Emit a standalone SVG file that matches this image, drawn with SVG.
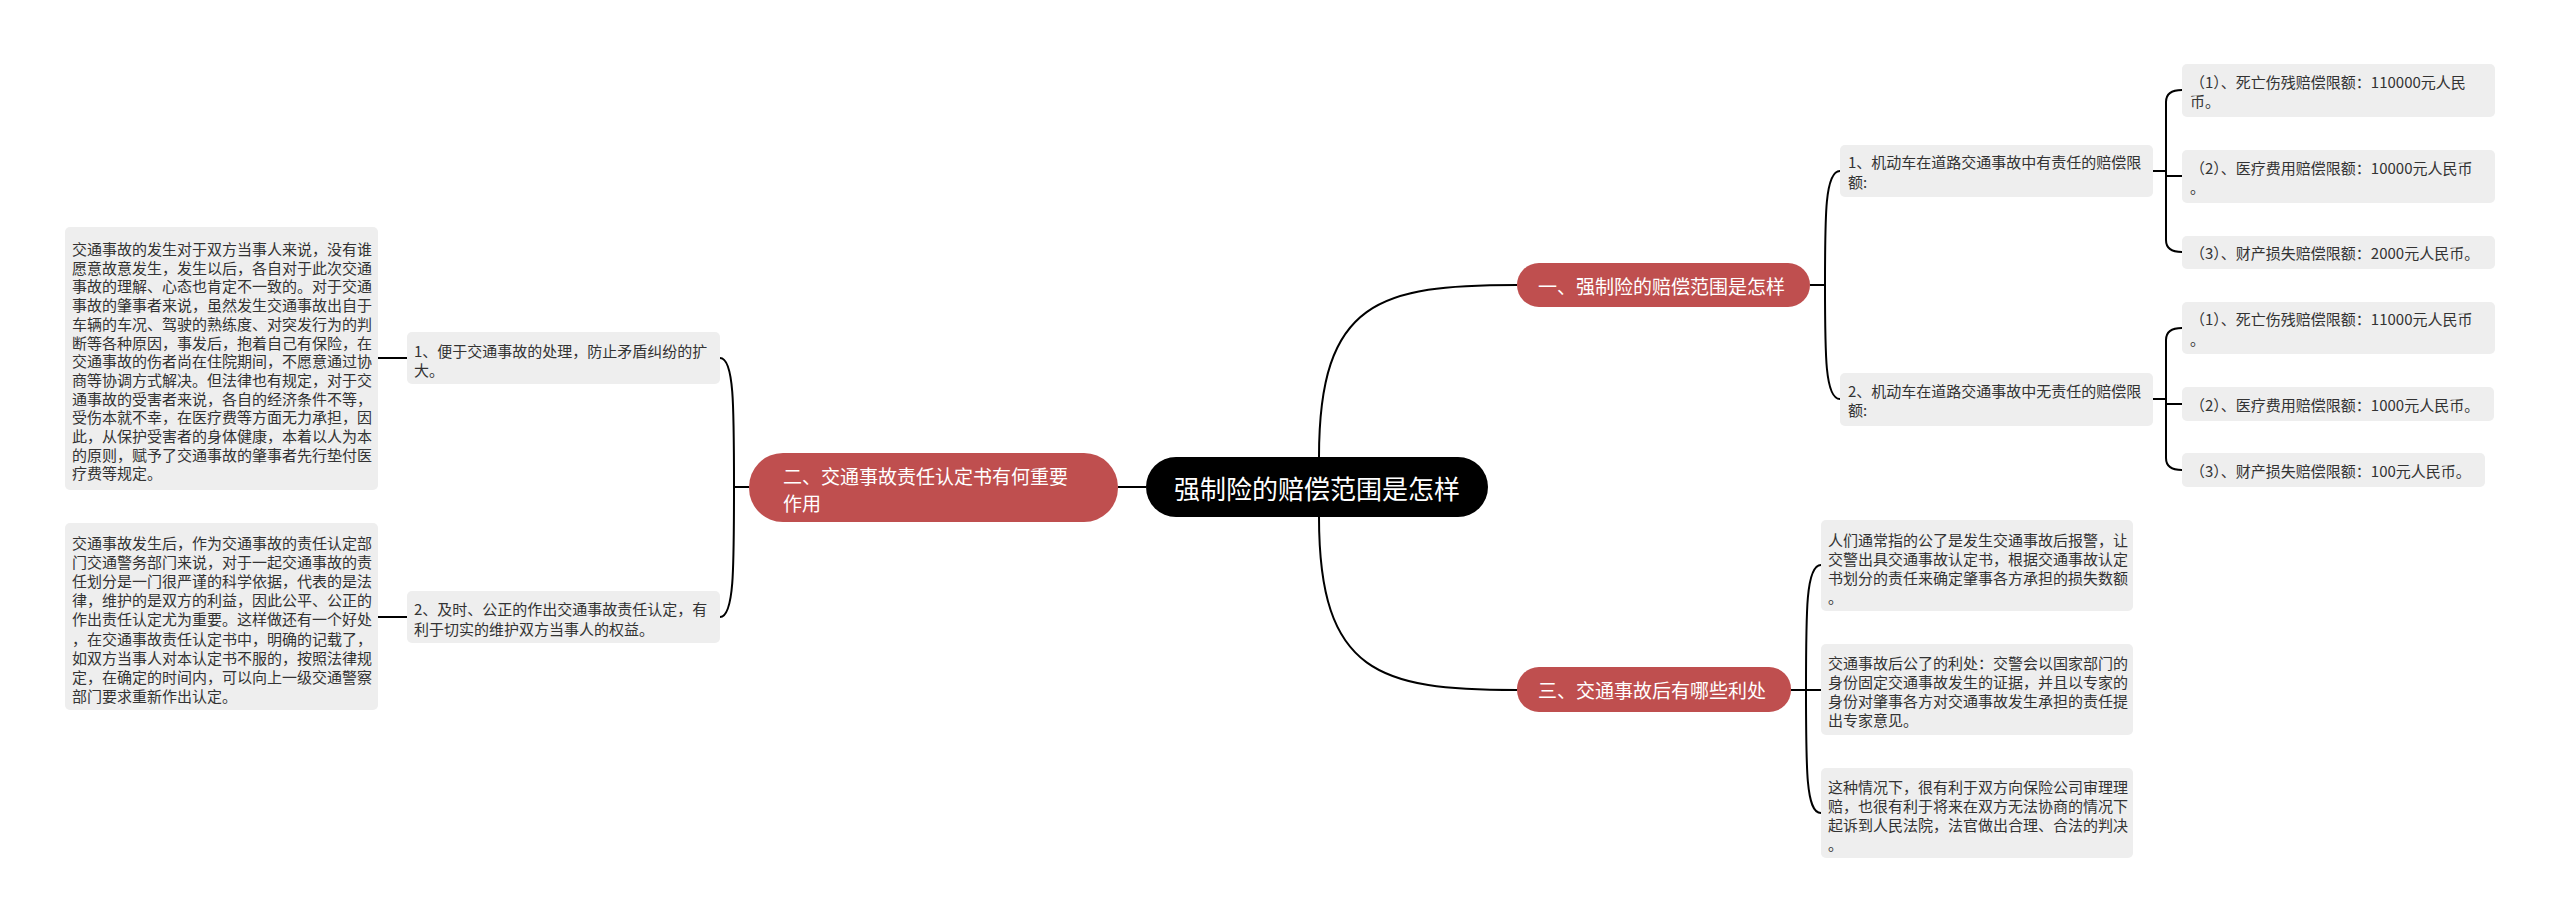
<svg xmlns="http://www.w3.org/2000/svg" width="2560" height="924" viewBox="0 0 2560 924">
<style>
.bg{fill:#ffffff}
.box{fill:#eeeeee}
.red{fill:#bf4f4f}
.root{fill:#000000}
.t{font-family:"Noto Sans CJK SC","Liberation Sans",sans-serif;font-size:15px;fill:#333333;dominant-baseline:central}
.tw{font-family:"Noto Sans CJK SC","Liberation Sans",sans-serif;font-size:19px;fill:#ffffff;dominant-baseline:central}
.tr{font-family:"Noto Sans CJK SC","Liberation Sans",sans-serif;font-size:26px;fill:#ffffff;dominant-baseline:central;text-anchor:middle}
.c{fill:none;stroke:#000000;stroke-width:2}
</style>
<rect class="bg" x="0" y="0" width="2560" height="924"/>
<g id="connectors">
<path class="c" d="M1146,487 L1118,487"/>
<path class="c" d="M1319,457 C1319,300 1380,285 1517,285"/>
<path class="c" d="M1319,517 C1319,674 1380,690 1517,690"/>
<path class="c" d="M1810,285 L1825,285"/>
<path class="c" d="M1825,285 C1825,215 1825,171 1840,171"/>
<path class="c" d="M1825,285 C1825,355 1825,399 1840,399"/>
<path class="c" d="M2153,171 L2166,171"/>
<path class="c" d="M2166,171 L2166,102 Q2166,90 2182,90"/>
<path class="c" d="M2166,176 L2182,176"/>
<path class="c" d="M2166,171 L2166,240 Q2166,252 2182,252"/>
<path class="c" d="M2153,399 L2166,399"/>
<path class="c" d="M2166,399 L2166,340 Q2166,328 2182,328"/>
<path class="c" d="M2166,404 L2182,404"/>
<path class="c" d="M2166,399 L2166,458 Q2166,470 2182,470"/>
<path class="c" d="M1791,690 L1806,690"/>
<path class="c" d="M1806,690 C1806,610 1806,565 1821,565"/>
<path class="c" d="M1806,690 L1821,690"/>
<path class="c" d="M1806,690 C1806,770 1806,813 1821,813"/>
<path class="c" d="M749,487 L734,487"/>
<path class="c" d="M734,487 C734,405 734,358 720,358"/>
<path class="c" d="M734,487 C734,570 734,617 720,617"/>
<path class="c" d="M407,358 L378,358"/>
<path class="c" d="M407,617 L378,617"/>
</g>
<g id="root">
<rect class="root" x="1146" y="457" width="342" height="60" rx="30"/>
<text class="tr" x="1317" y="487">强制险的赔偿范围是怎样</text>
</g>
<g id="n1">
<rect class="red" x="1517" y="263" width="293" height="44" rx="22"/>
<text class="tw" x="1538" y="285">一、强制险的赔偿范围是怎样</text>
</g>
<g id="n2">
<rect class="red" x="749" y="453" width="369" height="69" rx="34"/>
<text class="tw" x="783" y="475">二、交通事故责任认定书有何重要<tspan x="783" y="502">作用</tspan></text>
</g>
<g id="n3">
<rect class="red" x="1517" y="667" width="274" height="45" rx="22"/>
<text class="tw" x="1538" y="689.5">三、交通事故后有哪些利处</text>
</g>
<g id="n1-1">
<rect class="box" x="1840" y="145" width="313" height="52" rx="5"/>
<text class="t" x="1848" y="161.5">1、机动车在道路交通事故中有责任的赔偿限<tspan x="1848" y="180.5">额:</tspan></text>
</g>
<g id="n1-1-1">
<rect class="box" x="2182" y="64" width="313" height="53" rx="5"/>
<text class="t" x="2190" y="81">（1）、死亡伤残赔偿限额：110000元人民<tspan x="2190" y="100">币。</tspan></text>
</g>
<g id="n1-1-2">
<rect class="box" x="2182" y="150" width="313" height="53" rx="5"/>
<text class="t" x="2190" y="167">（2）、医疗费用赔偿限额：10000元人民币<tspan x="2190" y="186">。</tspan></text>
</g>
<g id="n1-1-3">
<rect class="box" x="2182" y="236" width="313" height="33" rx="5"/>
<text class="t" x="2190" y="252.5">（3）、财产损失赔偿限额：2000元人民币。</text>
</g>
<g id="n1-2">
<rect class="box" x="1840" y="373" width="313" height="53" rx="5"/>
<text class="t" x="1848" y="390">2、机动车在道路交通事故中无责任的赔偿限<tspan x="1848" y="409">额:</tspan></text>
</g>
<g id="n1-2-1">
<rect class="box" x="2182" y="302" width="313" height="52" rx="5"/>
<text class="t" x="2190" y="318.5">（1）、死亡伤残赔偿限额：11000元人民币<tspan x="2190" y="337.5">。</tspan></text>
</g>
<g id="n1-2-2">
<rect class="box" x="2182" y="387" width="312" height="34" rx="5"/>
<text class="t" x="2190" y="404">（2）、医疗费用赔偿限额：1000元人民币。</text>
</g>
<g id="n1-2-3">
<rect class="box" x="2182" y="453" width="303" height="34" rx="5"/>
<text class="t" x="2190" y="470">（3）、财产损失赔偿限额：100元人民币。</text>
</g>
<g id="n3-1">
<rect class="box" x="1821" y="520" width="312" height="91" rx="5"/>
<text class="t" x="1828" y="539">人们通常指的公了是发生交通事故后报警，让<tspan x="1828" y="558">交警出具交通事故认定书，根据交通事故认定</tspan><tspan x="1828" y="577">书划分的责任来确定肇事各方承担的损失数额</tspan><tspan x="1828" y="596">。</tspan></text>
</g>
<g id="n3-2">
<rect class="box" x="1821" y="644" width="312" height="91" rx="5"/>
<text class="t" x="1828" y="662">交通事故后公了的利处：交警会以国家部门的<tspan x="1828" y="681">身份固定交通事故发生的证据，并且以专家的</tspan><tspan x="1828" y="700">身份对肇事各方对交通事故发生承担的责任提</tspan><tspan x="1828" y="719">出专家意见。</tspan></text>
</g>
<g id="n3-3">
<rect class="box" x="1821" y="768" width="312" height="90" rx="5"/>
<text class="t" x="1828" y="786">这种情况下，很有利于双方向保险公司审理理<tspan x="1828" y="805">赔，也很有利于将来在双方无法协商的情况下</tspan><tspan x="1828" y="824">起诉到人民法院，法官做出合理、合法的判决</tspan><tspan x="1828" y="843">。</tspan></text>
</g>
<g id="n2-1">
<rect class="box" x="407" y="332" width="313" height="52" rx="5"/>
<text class="t" x="414" y="350">1、便于交通事故的处理，防止矛盾纠纷的扩<tspan x="414" y="369">大。</tspan></text>
</g>
<g id="n2-1-1">
<rect class="box" x="65" y="227" width="313" height="263" rx="5"/>
<text class="t" x="72" y="248">交通事故的发生对于双方当事人来说，没有谁<tspan x="72" dy="18.7">愿意故意发生，发生以后，各自对于此次交通</tspan><tspan x="72" dy="18.7">事故的理解、心态也肯定不一致的。对于交通</tspan><tspan x="72" dy="18.7">事故的肇事者来说，虽然发生交通事故出自于</tspan><tspan x="72" dy="18.7">车辆的车况、驾驶的熟练度、对突发行为的判</tspan><tspan x="72" dy="18.7">断等各种原因，事发后，抱着自己有保险，在</tspan><tspan x="72" dy="18.7">交通事故的伤者尚在住院期间，不愿意通过协</tspan><tspan x="72" dy="18.7">商等协调方式解决。但法律也有规定，对于交</tspan><tspan x="72" dy="18.7">通事故的受害者来说，各自的经济条件不等，</tspan><tspan x="72" dy="18.7">受伤本就不幸，在医疗费等方面无力承担，因</tspan><tspan x="72" dy="18.7">此，从保护受害者的身体健康，本着以人为本</tspan><tspan x="72" dy="18.7">的原则，赋予了交通事故的肇事者先行垫付医</tspan><tspan x="72" dy="18.7">疗费等规定。</tspan></text>
</g>
<g id="n2-2">
<rect class="box" x="407" y="591" width="313" height="52" rx="5"/>
<text class="t" x="414" y="608.5">2、及时、公正的作出交通事故责任认定，有<tspan x="414" y="627.5">利于切实的维护双方当事人的权益。</tspan></text>
</g>
<g id="n2-2-1">
<rect class="box" x="65" y="523" width="313" height="187" rx="5"/>
<text class="t" x="72" y="542">交通事故发生后，作为交通事故的责任认定部<tspan x="72" dy="19.1">门交通警务部门来说，对于一起交通事故的责</tspan><tspan x="72" dy="19.1">任划分是一门很严谨的科学依据，代表的是法</tspan><tspan x="72" dy="19.1">律，维护的是双方的利益，因此公平、公正的</tspan><tspan x="72" dy="19.1">作出责任认定尤为重要。这样做还有一个好处</tspan><tspan x="72" dy="19.1">，在交通事故责任认定书中，明确的记载了，</tspan><tspan x="72" dy="19.1">如双方当事人对本认定书不服的，按照法律规</tspan><tspan x="72" dy="19.1">定，在确定的时间内，可以向上一级交通警察</tspan><tspan x="72" dy="19.1">部门要求重新作出认定。</tspan></text>
</g>
</svg>
